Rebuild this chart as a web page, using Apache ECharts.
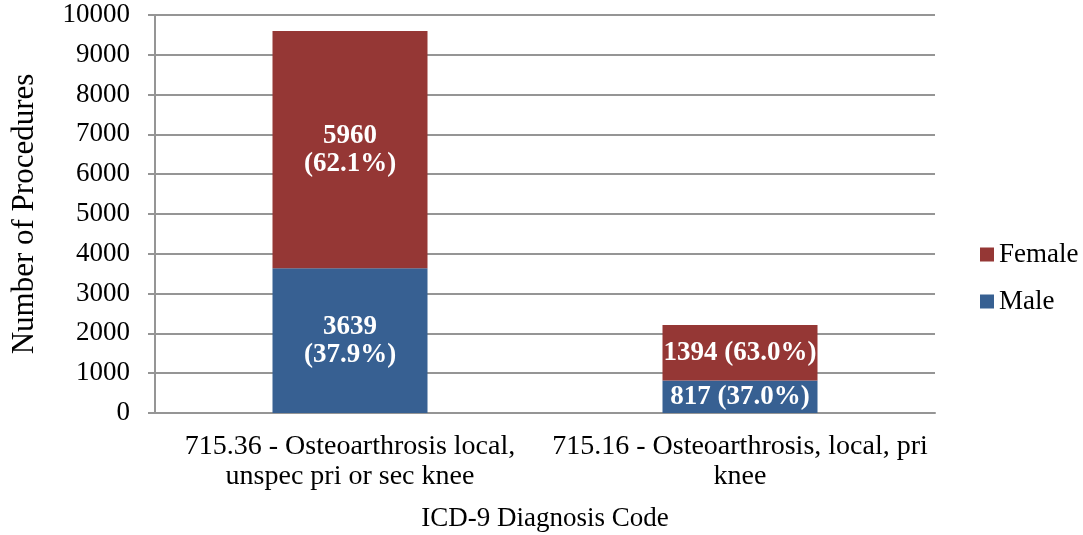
<!DOCTYPE html>
<html>
<head>
<meta charset="utf-8">
<script src="https://cdn.jsdelivr.net/npm/echarts@6/dist/echarts.min.js"></script>
<style>
  html, body { margin: 0; padding: 0; background: #fff; }
  #chart { width: 1083px; height: 535px; }
</style>
</head>
<body>
<div id="chart"></div>
<script>
const categories = [
  '715.36 - Osteoarthrosis local,\nunspec pri or sec knee',
  '715.16 - Osteoarthrosis, local, pri\nknee'
];
const maleValues = [3639, 817];
const femaleValues = [5960, 1394];
// how the count and percentage are joined in each bar's label
const labelSeparators = ['\n', ' '];

const serif = '"Liberation Serif", "DejaVu Serif", serif';

const pct = (v, i) => (v / (maleValues[i] + femaleValues[i]) * 100).toFixed(1);
const makeLabel = values => params => {
  const i = params.dataIndex;
  return values[i] + labelSeparators[i] + '(' + pct(values[i], i) + '%)';
};

const chart = echarts.init(document.getElementById('chart'));

chart.setOption({
  animation: false,
  backgroundColor: '#fff',
  grid: { left: 155, right: 148, top: 15, bottom: 122, outerBoundsMode: 'none' },
  legend: {
    data: ['Female', 'Male'],
    orient: 'vertical',
    left: 975,
    top: 236,
    itemWidth: 14,
    itemHeight: 14,
    itemGap: 20,
    icon: 'rect',
    textStyle: { fontFamily: serif, fontSize: 27, color: '#000' }
  },
  xAxis: {
    type: 'category',
    data: categories,
    name: 'ICD-9 Diagnosis Code',
    nameLocation: 'middle',
    nameGap: 92,
    nameTextStyle: { fontFamily: serif, fontSize: 27, color: '#000' },
    axisLine: { lineStyle: { color: '#959595', width: 2 } },
    axisTick: { length: 6, lineStyle: { color: '#959595', width: 2 } },
    axisLabel: {
      fontFamily: serif, fontSize: 28, color: '#000',
      lineHeight: 30, margin: 19, interval: 0
    }
  },
  yAxis: {
    type: 'value',
    min: 0,
    max: 10000,
    interval: 1000,
    name: 'Number of Procedures',
    nameLocation: 'middle',
    nameGap: 115,
    nameTextStyle: { fontFamily: serif, fontSize: 31, color: '#000' },
    axisLine: { show: true, lineStyle: { color: '#959595', width: 2 } },
    axisTick: { show: true, length: 7, lineStyle: { color: '#959595', width: 2 } },
    splitLine: { lineStyle: { color: '#959595', width: 2 } },
    axisLabel: {
      fontFamily: serif, fontSize: 27, color: '#000', margin: 25,
      formatter: v => String(v)
    }
  },
  series: [
    {
      name: 'Male',
      type: 'bar',
      stack: 'total',
      barWidth: 155,
      data: maleValues,
      itemStyle: { color: '#376092' },
      label: {
        show: true,
        position: 'inside',
        formatter: makeLabel(maleValues),
        fontFamily: serif, fontSize: 27, fontWeight: 'bold',
        color: '#fff', lineHeight: 28
      }
    },
    {
      name: 'Female',
      type: 'bar',
      stack: 'total',
      barWidth: 155,
      data: femaleValues,
      itemStyle: { color: '#953735' },
      label: {
        show: true,
        position: 'inside',
        formatter: makeLabel(femaleValues),
        fontFamily: serif, fontSize: 27, fontWeight: 'bold',
        color: '#fff', lineHeight: 28
      }
    }
  ]
});
</script>
</body>
</html>
